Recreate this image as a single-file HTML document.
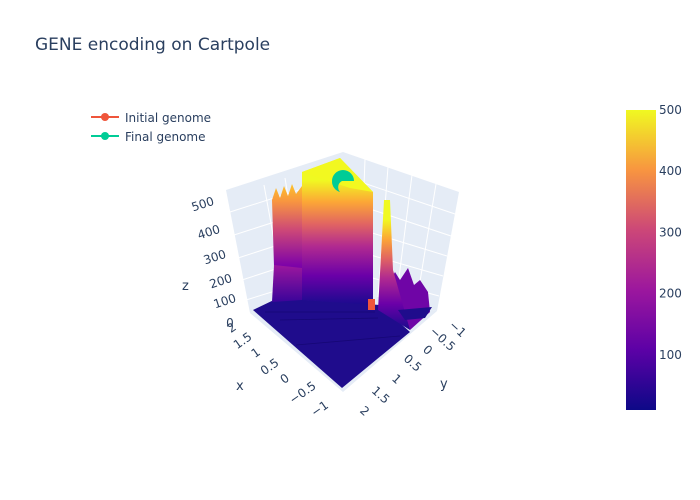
<!DOCTYPE html>
<html><head><meta charset="utf-8"><style>
body{margin:0;background:#fff}
svg{display:block;font-family:"DejaVu Sans","Liberation Sans",sans-serif;fill:#2a3f5f}
</style></head><body>
<svg width="700" height="500" viewBox="0 0 700 500">
<defs>
<linearGradient id="plasma" x1="0" y1="1" x2="0" y2="0">
<stop offset="0" stop-color="#0d0887"/><stop offset="0.2" stop-color="#5c01a6"/><stop offset="0.4" stop-color="#9c179e"/><stop offset="0.6" stop-color="#cc4778"/><stop offset="0.8" stop-color="#f89540"/><stop offset="1" stop-color="#f0f921"/>
</linearGradient>
<linearGradient id="blockg" x1="0" y1="1" x2="0" y2="0">
<stop offset="0" stop-color="#1a0a8e"/><stop offset="0.2" stop-color="#6a00a8"/><stop offset="0.4" stop-color="#b12a90"/><stop offset="0.55" stop-color="#e16462"/><stop offset="0.7" stop-color="#fca636"/><stop offset="0.85" stop-color="#f0f921"/><stop offset="1" stop-color="#f0f921"/>
</linearGradient>
<linearGradient id="leftg" x1="0" y1="1" x2="0" y2="0">
<stop offset="0" stop-color="#2a0593"/><stop offset="0.3" stop-color="#7e03a8"/><stop offset="0.6" stop-color="#cc4778"/><stop offset="0.85" stop-color="#f89540"/><stop offset="1" stop-color="#fdc328"/>
</linearGradient>
<linearGradient id="lowg" x1="0" y1="1" x2="0" y2="0">
<stop offset="0" stop-color="#3a049a"/><stop offset="1" stop-color="#9c179e"/>
</linearGradient>
</defs>
<text x="35" y="50" font-size="17">GENE encoding on Cartpole</text>

<g>
<g>
<line x1="91" y1="117" x2="119" y2="117" stroke="#ef553b" stroke-width="2"/><circle cx="105" cy="117" r="4" fill="#ef553b"/>
<text x="125" y="122" font-size="12">Initial genome</text></g>
<g>
<line x1="91" y1="136" x2="119" y2="136" stroke="#00cc96" stroke-width="2"/><circle cx="105" cy="136" r="4" fill="#00cc96"/>
<text x="125" y="141" font-size="12">Final genome</text></g>
</g>

<g>
<polygon points="226,190 343,152 343,288 250,313" fill="#e5ecf6"/>
<polygon points="343,152 459,192 437,311 343,288" fill="#e5ecf6"/>
<polygon points="250,313 343,288 437,311 343,392" fill="#e5ecf6"/>
<g stroke="#fff" stroke-width="1" fill="none">
<line x1="230" y1="212" x2="343" y2="176"/><line x1="234" y1="235" x2="343" y2="200"/><line x1="238" y1="258" x2="343" y2="224"/><line x1="242" y1="280" x2="343" y2="247"/><line x1="246" y1="300" x2="343" y2="270"/>
<line x1="343" y1="176" x2="455" y2="214"/><line x1="343" y1="200" x2="451" y2="236"/><line x1="343" y1="224" x2="447" y2="256"/><line x1="343" y1="247" x2="443" y2="276"/><line x1="343" y1="270" x2="439" y2="296"/>
<line x1="264" y1="185" x2="286" y2="306"/><line x1="285" y1="178" x2="305" y2="301"/><line x1="305" y1="171" x2="322" y2="296"/><line x1="325" y1="164" x2="336" y2="290"/>
<line x1="365" y1="159" x2="360" y2="292"/><line x1="388" y1="167" x2="378" y2="297"/><line x1="412" y1="175" x2="396" y2="301"/><line x1="436" y1="184" x2="416" y2="306"/>
</g>
<polygon points="253,310 278,298 380,305 410,332 342,388" fill="#1f0c8c"/>
<g stroke="#160775" stroke-width="0.8">
<line x1="265" y1="312" x2="375" y2="312"/><line x1="280" y1="320" x2="378" y2="318"/><line x1="296" y1="345" x2="400" y2="336"/>
</g>
<polygon points="272,200 276,188 280,198 284,186 288,196 292,184 296,194 302,186 302,298 275,300" fill="url(#leftg)"/>
<polygon points="274,265 302,268 302,300 272,302" fill="url(#lowg)"/>
<polygon points="302,172 340,158 373,192 373,305 302,300" fill="url(#blockg)"/>
<polygon points="302,172 340,158 373,192 350,188" fill="#f2f820"/>
<polygon points="385,290 395,272 400,280 408,268 414,285 420,280 428,292 430,312 410,330" fill="#6f05a6"/>
<polygon points="378,310 384,200 390,200 393,270 410,330" fill="url(#blockg)"/>
<polygon points="398,310 432,307 425,318 405,320" fill="#1f0c8c"/>
<rect x="368" y="299" width="7" height="11" fill="#ef553b"/>
<path d="M332,181 A11,11 0 0 1 354,181 L342,181 A7,7 0 0 0 340,192 A11,11 0 0 1 332,181 Z" fill="#00cc96"/>

<g font-size="12">
<text x="204" y="208" transform="rotate(-18 204 208)" text-anchor="middle">500</text>
<text x="210" y="236" transform="rotate(-18 210 236)" text-anchor="middle">400</text>
<text x="216" y="261" transform="rotate(-18 216 261)" text-anchor="middle">300</text>
<text x="222" y="285" transform="rotate(-18 222 285)" text-anchor="middle">200</text>
<text x="226" y="305" transform="rotate(-18 226 305)" text-anchor="middle">100</text>
<text x="230" y="327" text-anchor="middle">0</text>
<text x="182" y="290" font-size="13">z</text>
</g>
<g font-size="12">
<text x="234" y="331" transform="rotate(-35 234 331)" text-anchor="middle">2</text>
<text x="245" y="344" transform="rotate(-35 245 344)" text-anchor="middle">1.5</text>
<text x="258" y="356" transform="rotate(-35 258 356)" text-anchor="middle">1</text>
<text x="272" y="370" transform="rotate(-35 272 370)" text-anchor="middle">0.5</text>
<text x="287" y="382" transform="rotate(-35 287 382)" text-anchor="middle">0</text>
<text x="305" y="396" transform="rotate(-35 305 396)" text-anchor="middle">−0.5</text>
<text x="322" y="412" transform="rotate(-35 322 412)" text-anchor="middle">−1</text>
<text x="236" y="390" font-size="13">x</text>
</g>
<g font-size="12">
<text x="362" y="414" transform="rotate(42 362 414)" text-anchor="middle">2</text>
<text x="378" y="398" transform="rotate(42 378 398)" text-anchor="middle">1.5</text>
<text x="394" y="382" transform="rotate(42 394 382)" text-anchor="middle">1</text>
<text x="410" y="366" transform="rotate(42 410 366)" text-anchor="middle">0.5</text>
<text x="425" y="353" transform="rotate(42 425 353)" text-anchor="middle">0</text>
<text x="440" y="342" transform="rotate(42 440 342)" text-anchor="middle">−0.5</text>
<text x="455" y="332" transform="rotate(42 455 332)" text-anchor="middle">−1</text>
<text x="440" y="388" font-size="13">y</text>
</g>
</g>

<g>
<rect x="626" y="110" width="30" height="300" fill="url(#plasma)"/>
<g id="cbticks" font-size="12"></g>
</g>
<script>
const cbTicks=[100,200,300,400,500];
const cbMin=10, cbMax=500;
const g=document.getElementById('cbticks');
cbTicks.forEach(v=>{
  const y=410-(v-cbMin)/(cbMax-cbMin)*300;
  const t=document.createElementNS('http://www.w3.org/2000/svg','text');
  
  
  t.setAttribute('x',659);t.setAttribute('y',y+4);t.textContent=v;g.appendChild(t);
});
</script>
</svg>
</body></html>
